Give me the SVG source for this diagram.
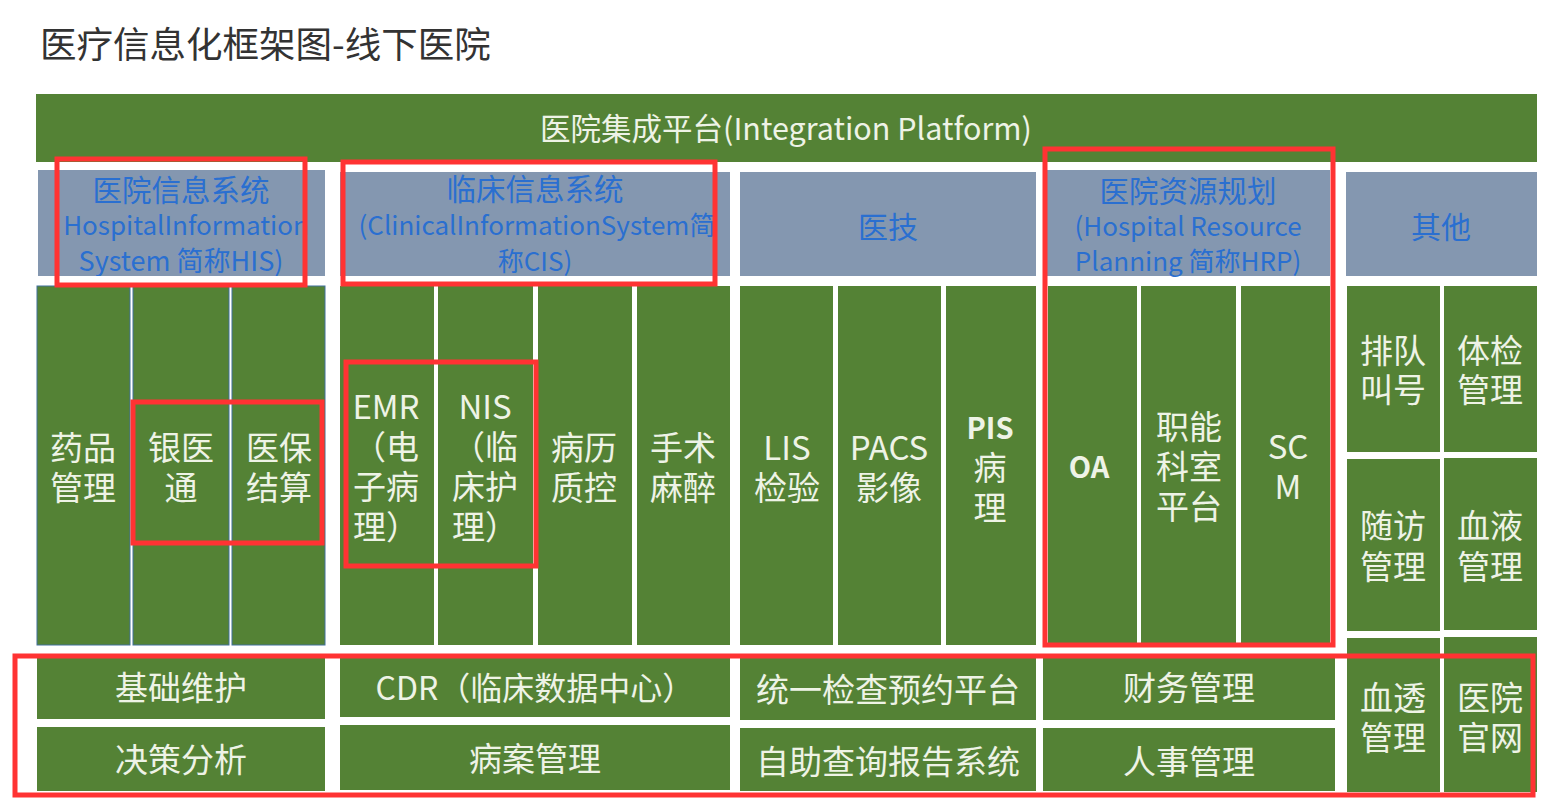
<svg xmlns="http://www.w3.org/2000/svg" width="1546" height="799" viewBox="0 0 1546 799">
<style>
text{font-family:"Noto Sans CJK SC","Noto Sans",sans-serif;}
.g{fill:#548235;}
.hb{fill:#8497B0;}
.his{fill:#548235;stroke:#41719C;stroke-width:1;}
.t{fill:#EEF3E6;font-size:33px;text-anchor:middle;dominant-baseline:central;}
.tb{fill:#EEF3E6;font-size:29px;font-weight:bold;text-anchor:middle;dominant-baseline:central;}
.h{fill:#2A6FD0;font-size:26px;text-anchor:middle;dominant-baseline:central;}
.hc{font-size:29.5px;}
.red{fill:none;stroke:#FF3333;stroke-width:5;}
</style>
<defs>
<clipPath id="cHIS"><rect x="38" y="170" width="287" height="106"/></clipPath>
<clipPath id="cCIS"><rect x="340" y="170" width="373" height="106"/></clipPath>
</defs>
<rect x="0" y="0" width="1546" height="799" fill="#FFFFFF"/>
<text x="40" y="42" font-size="36.5" fill="#333333" dominant-baseline="central">医疗信息化框架图-线下医院</text>

<g id="platform">
<rect class="g" x="36" y="94" width="1501" height="68"/>
<text class="t" x="786" y="127" style="font-size:30.5px">医院集成平台(Integration Platform)</text>
</g>

<g id="his-header">
<rect class="hb" x="38" y="170" width="287" height="106"/>
<text class="h" x="181" y="188" clip-path="url(#cHIS)"><tspan class="hc" x="181">医院信息系统</tspan><tspan x="186" dy="35">HospitalInformation</tspan><tspan x="181" dy="36" style="font-size:27px">System 简称HIS)</tspan></text>
</g>
<g id="cis-header">
<rect class="hb" x="340" y="172" width="390" height="104"/>
<text class="h" x="535" y="187" clip-path="url(#cCIS)"><tspan class="hc" x="535">临床信息系统</tspan><tspan x="537" dy="36">(ClinicalInformationSystem简</tspan><tspan x="535" dy="36">称CIS)</tspan></text>
</g>
<g id="tech-header">
<rect class="hb" x="740" y="172" width="296" height="104"/>
<text class="h" x="888" y="225" style="font-size:30px">医技</text>
</g>
<g id="hrp-header">
<rect class="hb" x="1046" y="170" width="284" height="106"/>
<text class="h" x="1188" y="189"><tspan class="hc" x="1188">医院资源规划</tspan><tspan x="1188" dy="35">(Hospital Resource</tspan><tspan x="1188" dy="35">Planning 简称HRP)</tspan></text>
</g>
<g id="other-header">
<rect class="hb" x="1346" y="172" width="191" height="104"/>
<text class="h" x="1441" y="225" style="font-size:30px">其他</text>
</g>

<g id="his-drug"><rect class="his" x="37" y="286" width="93" height="359"/><text class="t" x="83" y="446"><tspan x="83">药品</tspan><tspan x="83" dy="40">管理</tspan></text></g>
<g id="his-bank"><rect class="his" x="133" y="286" width="96" height="359"/><text class="t" x="181" y="446"><tspan x="181">银医</tspan><tspan x="181" dy="40">通</tspan></text></g>
<g id="his-insurance"><rect class="his" x="232" y="286" width="93" height="359"/><text class="t" x="279" y="446"><tspan x="279">医保</tspan><tspan x="279" dy="40">结算</tspan></text></g>

<g id="cis-emr"><rect class="g" x="340" y="286" width="94" height="359"/><text class="t" x="386" y="405"><tspan x="386">EMR</tspan><tspan x="386" dy="40">（电</tspan><tspan x="386" dy="40">子病</tspan><tspan x="386" dy="40">理）</tspan></text></g>
<g id="cis-nis"><rect class="g" x="438" y="286" width="95" height="359"/><text class="t" x="485" y="405"><tspan x="485">NIS</tspan><tspan x="485" dy="40">（临</tspan><tspan x="485" dy="40">床护</tspan><tspan x="485" dy="40">理）</tspan></text></g>
<g id="cis-record"><rect class="g" x="538" y="286" width="94" height="359"/><text class="t" x="584" y="446"><tspan x="584">病历</tspan><tspan x="584" dy="40">质控</tspan></text></g>
<g id="cis-surgery"><rect class="g" x="637" y="286" width="93" height="359"/><text class="t" x="683" y="446"><tspan x="683">手术</tspan><tspan x="683" dy="40">麻醉</tspan></text></g>

<g id="tech-lis"><rect class="g" x="740" y="286" width="93" height="359"/><text class="t" x="787" y="446"><tspan x="787">LIS</tspan><tspan x="787" dy="40">检验</tspan></text></g>
<g id="tech-pacs"><rect class="g" x="838" y="286" width="103" height="359"/><text class="t" x="889" y="446"><tspan x="889">PACS</tspan><tspan x="889" dy="40">影像</tspan></text></g>
<g id="tech-pis"><rect class="g" x="946" y="286" width="90" height="359"/><text class="t" x="990" y="426"><tspan x="990" style="font-size:29px;font-weight:bold">PIS</tspan><tspan x="990" dy="40">病</tspan><tspan x="990" dy="40">理</tspan></text></g>

<g id="hrp-oa"><rect class="g" x="1048" y="286" width="89" height="359"/><text class="tb" x="1089" y="465">OA</text></g>
<g id="hrp-func"><rect class="g" x="1141" y="286" width="95" height="359"/><text class="t" x="1189" y="425"><tspan x="1189">职能</tspan><tspan x="1189" dy="40">科室</tspan><tspan x="1189" dy="40">平台</tspan></text></g>
<g id="hrp-scm"><rect class="g" x="1241" y="286" width="89" height="359"/><text class="t" x="1288" y="445"><tspan x="1288">SC</tspan><tspan x="1288" dy="40">M</tspan></text></g>

<g id="other-queue"><rect class="g" x="1347" y="286" width="93" height="166"/><text class="t" x="1393" y="349"><tspan x="1393">排队</tspan><tspan x="1393" dy="39">叫号</tspan></text></g>
<g id="other-exam"><rect class="g" x="1444" y="286" width="93" height="166"/><text class="t" x="1490" y="349"><tspan x="1490">体检</tspan><tspan x="1490" dy="39">管理</tspan></text></g>
<g id="other-followup"><rect class="g" x="1347" y="459" width="93" height="172"/><text class="t" x="1393" y="524"><tspan x="1393">随访</tspan><tspan x="1393" dy="41">管理</tspan></text></g>
<g id="other-blood"><rect class="g" x="1444" y="458" width="93" height="172"/><text class="t" x="1490" y="524"><tspan x="1490">血液</tspan><tspan x="1490" dy="41">管理</tspan></text></g>
<g id="other-dialysis"><rect class="g" x="1347" y="638" width="93" height="154"/><text class="t" x="1393" y="696"><tspan x="1393">血透</tspan><tspan x="1393" dy="40">管理</tspan></text></g>
<g id="other-website"><rect class="g" x="1444" y="637" width="93" height="155"/><text class="t" x="1490" y="696"><tspan x="1490">医院</tspan><tspan x="1490" dy="40">官网</tspan></text></g>

<g id="base-maint"><rect class="g" x="37" y="657" width="288" height="62"/><text class="t" x="181" y="686">基础维护</text></g>
<g id="decision"><rect class="g" x="37" y="727" width="288" height="64"/><text class="t" x="181" y="758">决策分析</text></g>
<g id="cdr"><rect class="g" x="340" y="657" width="390" height="60"/><text class="t" x="535" y="686" style="font-size:32px">CDR（临床数据中心）</text></g>
<g id="medical-record"><rect class="g" x="340" y="725" width="390" height="65"/><text class="t" x="535" y="757">病案管理</text></g>
<g id="appointment"><rect class="g" x="740" y="657" width="296" height="63"/><text class="t" x="888" y="688">统一检查预约平台</text></g>
<g id="self-query"><rect class="g" x="740" y="728" width="296" height="63"/><text class="t" x="888" y="760">自助查询报告系统</text></g>
<g id="finance"><rect class="g" x="1043" y="657" width="292" height="63"/><text class="t" x="1189" y="686">财务管理</text></g>
<g id="hr"><rect class="g" x="1043" y="728" width="292" height="63"/><text class="t" x="1189" y="760">人事管理</text></g>

<g id="connectors"></g>

<g id="annotations">
<rect class="red" x="57" y="159" width="248" height="126"/>
<rect class="red" x="343" y="162" width="372" height="122"/>
<rect class="red" x="1045" y="149" width="288" height="496"/>
<rect class="red" x="133" y="402" width="189" height="141"/>
<rect class="red" x="346" y="362" width="190" height="204"/>
<rect class="red" x="15" y="656" width="1518" height="139"/>
</g>
</svg>
